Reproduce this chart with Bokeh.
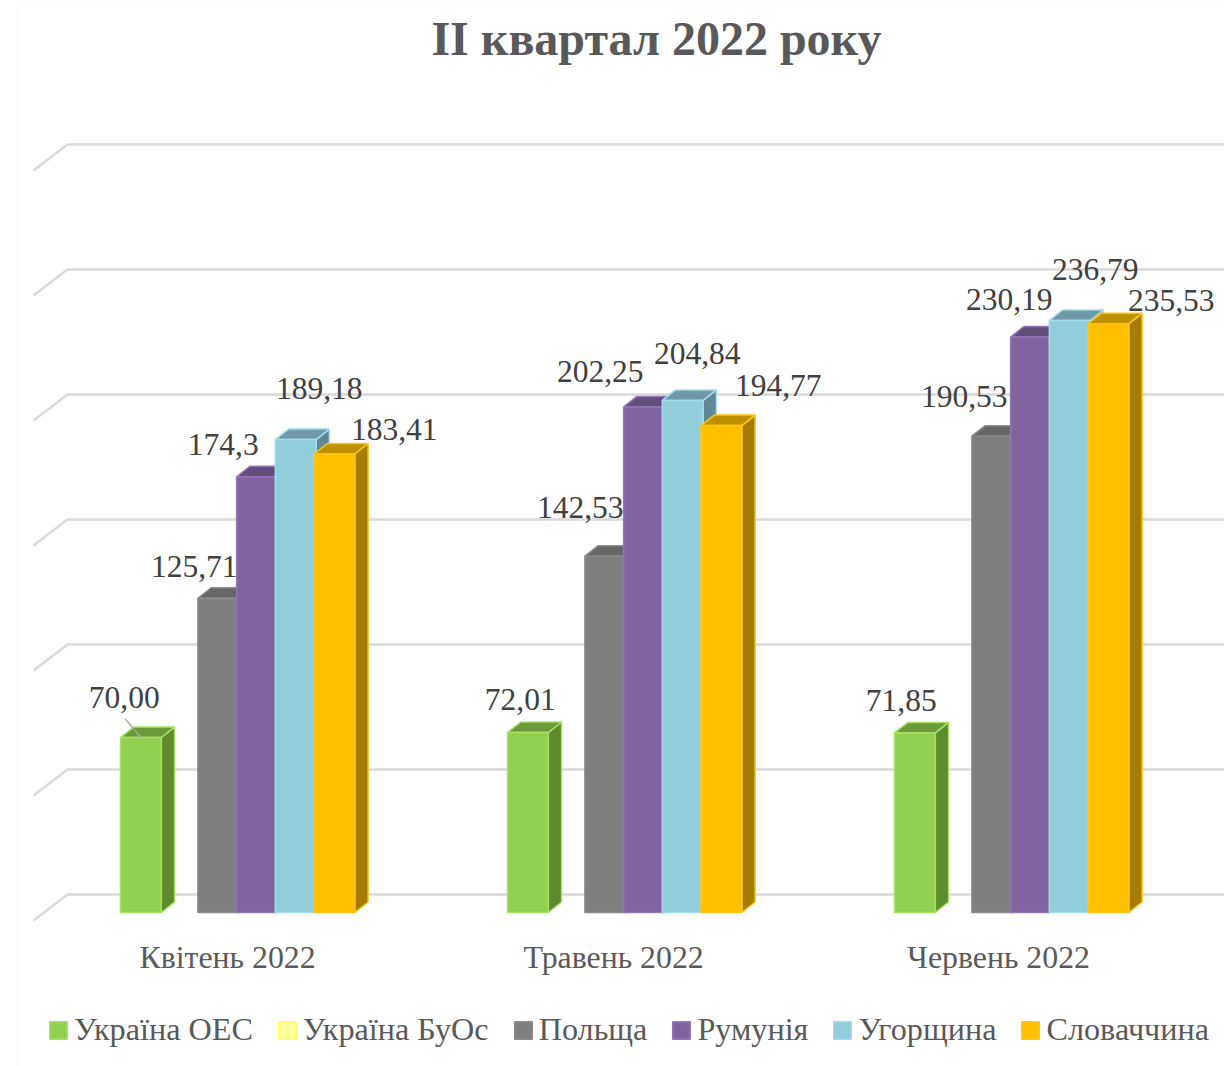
from bokeh.plotting import figure
from bokeh.models import (Range1d, Legend, LegendItem, Label, BoxAnnotation,
                          ColumnDataSource)
from bokeh.core.properties import value
from bokeh.embed import file_html
from bokeh.resources import INLINE

title_text = "II квартал 2022 року"
months = ["Квітень 2022", "Травень 2022", "Червень 2022"]
series = ["Україна ОЕС", "Україна БуОс", "Польща", "Румунія", "Угорщина", "Словаччина"]
ukraine_oes = [70.00, 72.01, 71.85]
ukraine_buos = [None, None, None]
poland = [125.71, 142.53, 190.53]
romania = [174.30, 202.25, 230.19]
hungary = [189.18, 204.84, 236.79]
slovakia = [183.41, 194.77, 235.53]
label_texts = [
    ["70,00", "72,01", "71,85"],
    None,
    ["125,71", "142,53", "190,53"],
    ["174,3", "202,25", "230,19"],
    ["189,18", "204,84", "236,79"],
    ["183,41", "194,77", "235,53"],
]
grid_values = [0, 50, 100, 150, 200, 250, 300]

# styling
front = ["#92d050", "#ffff99", "#7f7f7f", "#8064a2", "#92cddc", "#ffc000"]
edge = ["#a6e264", "#ffff66", "#8a8a8a", "#9478b6", "#a3dcea", "#ffc61a"]
top_c = ["#6c9a3b", "#bfbf72", "#666666", "#624d7d", "#6f9aa8", "#bf9000"]
side = ["#5f8a30", "#a6a663", "#595959", "#553f70", "#5f8796", "#a67c00"]
label_dx = [[-16.6, -7.6, -13.6], None, [-24, -25, -28], [-33.7, -43.7, -21.7],
            [23.6, 14.6, 25.6], [59.9, 56.9, 62.9]]
label_dy = [[-40, -33, -32.4], None, [-31.7, -48.7, -39.7], [-32.3, -35.4, -37.5],
            [-51, -46.9, -51], [-24.5, -40.1, -23.2]]
month_dx = [-9, -10, -12]   # pixels from the group's centre slot
month_dy = 45

W, H = 1224, 1066
PX_X = 387.0   # pixels per group
PX_Y = 2.5     # pixels per value unit
slot = 0.1
bar_w = 40.8 / PX_X
dep_x = 13.3 / PX_X
dep_y = 10.5 / PX_Y

p = figure(width=W, height=H, output_backend="svg", toolbar_location=None,
           x_range=Range1d(-120 / PX_X, (W - 120) / PX_X),
           y_range=Range1d((912 - H) / PX_Y, 912 / PX_Y),
           x_axis_location=None, y_axis_location=None,
           min_border_left=0, min_border_right=0, min_border_top=0, min_border_bottom=0)
p.grid.visible = False
p.outline_line_color = None
p.background_fill_color = "white"
p.border_fill_color = "white"

# pale chart border
p.add_layout(BoxAnnotation(left=17, right=3000, top=5, bottom=3000,
                           left_units="canvas", right_units="canvas",
                           top_units="canvas", bottom_units="canvas",
                           fill_alpha=0, line_color="#f0f0f0", line_width=1.5))

# gridlines on the back wall with a floor-side stub
gx0, gx1, gx2 = (33 - 120) / PX_X, (67 - 120) / PX_X, (W - 120) / PX_X
p.multi_line(xs=[[gx0, gx1, gx2] for _ in grid_values],
             ys=[[g - 8 / PX_Y, g + 18 / PX_Y, g + 18 / PX_Y] for g in grid_values],
             line_color="#d9d9d9", line_width=2.4)

all_values = [ukraine_oes, ukraine_buos, poland, romania, hungary, slovakia]
legend_items = []
label_rows = []
for j, (name, vals) in enumerate(zip(series, all_values)):
    lefts = [i + j * slot for i in range(len(vals))]
    tops = [float("nan") if v is None else v for v in vals]
    rights = [l + bar_w for l in lefts]
    keep = [k for k, v in enumerate(vals) if v is not None]
    if keep:
        p.patches(xs=[[rights[k], rights[k] + dep_x, rights[k] + dep_x, rights[k]] for k in keep],
                  ys=[[0, dep_y, tops[k] + dep_y, tops[k]] for k in keep],
                  fill_color=side[j], line_color=edge[j], line_width=1.5)
        p.patches(xs=[[lefts[k], lefts[k] + dep_x, rights[k] + dep_x, rights[k]] for k in keep],
                  ys=[[tops[k], tops[k] + dep_y, tops[k] + dep_y, tops[k]] for k in keep],
                  fill_color=top_c[j], line_color=edge[j], line_width=1.5)
    r = p.quad(left=lefts, right=rights, bottom=[0] * len(vals), top=tops,
               fill_color=front[j], line_color=edge[j], line_width=1.5)
    legend_items.append(LegendItem(label=name, renderers=[r]))
    if label_texts[j]:
        for k in keep:
            label_rows.append((lefts[k] + bar_w / 2, tops[k], label_texts[j][k],
                               label_dx[j][k], label_dy[j][k]))

# leader line of the first label
lx = label_rows[0][0]
ly = label_rows[0][1]
p.segment(x0=[lx - 16 / PX_X], y0=[ly + 19 / PX_Y], x1=[lx], y1=[ly],
          line_color="#a6a6a6", line_width=1.3)

src = ColumnDataSource(dict(x=[r[0] for r in label_rows], y=[r[1] for r in label_rows],
                            t=[r[2] for r in label_rows], dx=[r[3] for r in label_rows],
                            dy=[r[4] for r in label_rows]))
p.text(x="x", y="y", text="t", x_offset="dx", y_offset="dy", source=src,
       text_align="center", text_baseline="middle", text_color="#404040",
       text_font=value("Liberation Serif"), text_font_size="31.5px")

# month labels under the groups
month_src = ColumnDataSource(dict(x=[i + 3 * slot for i in range(len(months))],
                                  y=[0] * len(months), t=months, dx=month_dx,
                                  dy=[month_dy] * len(months)))
p.text(x="x", y="y", text="t", x_offset="dx", y_offset="dy", source=month_src,
       text_align="center", text_baseline="middle", text_color="#595959",
       text_font=value("Liberation Serif"), text_font_size="31.8px")

p.add_layout(Label(x=(656 - 120) / PX_X, y=(912 - 38) / PX_Y, text=title_text,
                   text_align="center", text_baseline="middle", text_color="#595959",
                   text_font="Liberation Serif", text_font_style="bold", text_font_size="48px"))

legend = Legend(items=legend_items, orientation="horizontal",
                location=(47, 18), spacing=23, label_standoff=5,
                glyph_width=22, glyph_height=22, padding=0, margin=0,
                border_line_color=None, background_fill_alpha=0,
                label_text_font="Liberation Serif", label_text_font_size="32.2px",
                label_text_color="#595959")
p.add_layout(legend, "center")

open("out.html", "w").write(file_html(p, INLINE))
